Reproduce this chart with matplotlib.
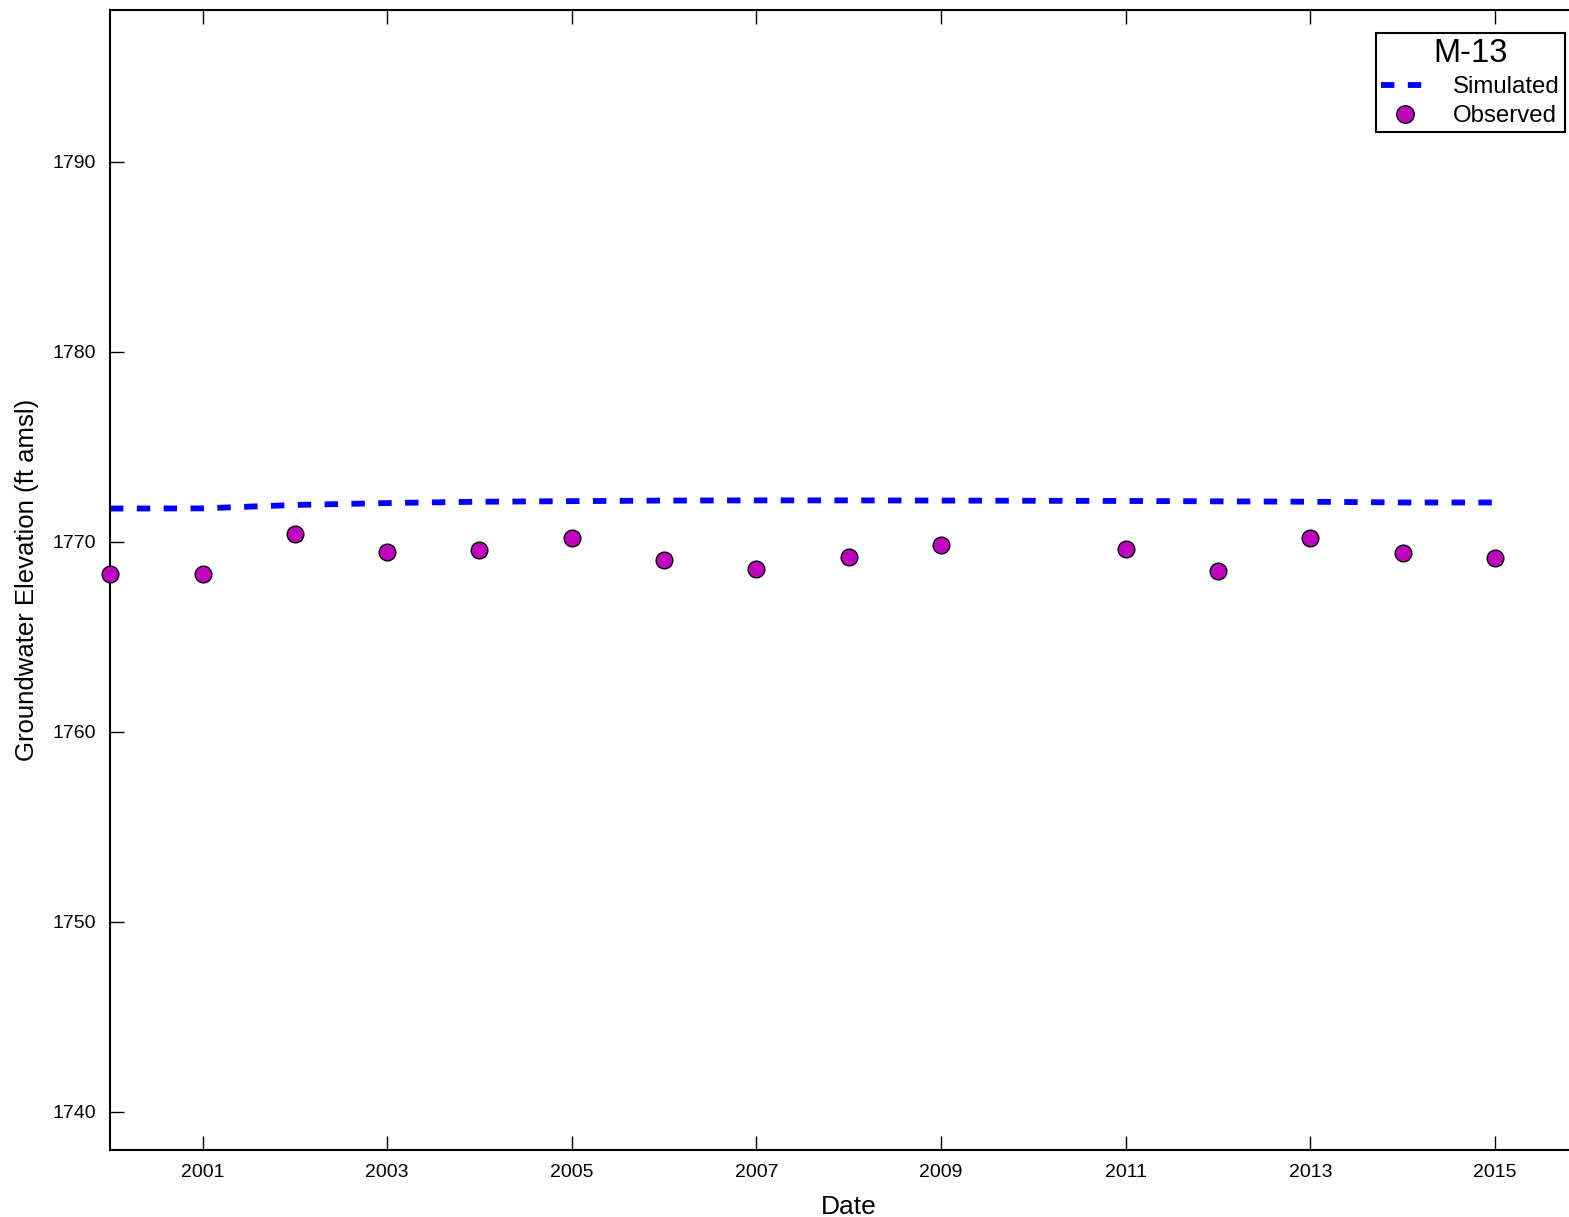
import matplotlib
matplotlib.use("Agg")
import matplotlib.pyplot as plt
import matplotlib.dates as mdates
import numpy as np
import pandas as pd

plt.rcParams['font.family'] = ['Liberation Sans', 'DejaVu Sans']

# well M-13: observed vs simulated groundwater elevation
obs_dates = pd.to_datetime(['2000-01-01', '2001-01-01', '2002-01-01', '2003-01-01',
                            '2004-01-01', '2005-01-01', '2006-01-01', '2007-01-01',
                            '2008-01-01', '2009-01-01', '2011-01-01', '2012-01-01',
                            '2013-01-01', '2014-01-01', '2015-01-01'])
obs_elev = [1768.34, 1768.32, 1770.44, 1769.50, 1769.60, 1770.23, 1769.05, 1768.60,
            1769.23, 1769.84, 1769.63, 1768.50, 1770.23, 1769.44, 1769.18]

sim_dates = pd.to_datetime(['2000-01-01', '2001-01-01', '2002-01-01', '2003-01-01',
                            '2004-01-01', '2005-01-01', '2006-01-01', '2007-01-01',
                            '2008-01-01', '2009-01-01', '2010-01-01', '2011-01-01',
                            '2012-01-01', '2013-01-01', '2014-01-01', '2015-01-01'])
sim_elev = [1771.76, 1771.77, 1771.95, 1772.05, 1772.12, 1772.15, 1772.18, 1772.19,
            1772.19, 1772.18, 1772.17, 1772.16, 1772.14, 1772.12, 1772.08, 1772.08]

year_ticks = pd.to_datetime(['2001-01-01', '2003-01-01', '2005-01-01', '2007-01-01',
                             '2009-01-01', '2011-01-01', '2013-01-01', '2015-01-01'])
elev_ticks = [1740, 1750, 1760, 1770, 1780, 1790]

fig = plt.figure(figsize=(15.69, 12.17), dpi=100)
ax = fig.add_axes([110 / 1569, 1 - 1150 / 1217, 1477 / 1569, 1140 / 1217])

ax.plot(sim_dates, sim_elev, color='b', lw=4.2, dashes=(2.3, 2.3), label='Simulated')
ax.plot(obs_dates, obs_elev, 'o', color='m', ms=12, mec='k', mew=1.0,
        label='Observed', clip_on=False, zorder=3)

ax.set_xlim(pd.Timestamp('2000-01-01'), pd.Timestamp('2016-01-01'))
ax.set_ylim(1738, 1798)
ax.set_yticks(elev_ticks)
ax.set_xticks(year_ticks)
ax.xaxis.set_major_formatter(mdates.DateFormatter('%Y'))

ax.tick_params(direction='in', length=10, width=1, labelsize=14, pad=10,
               top=True, right=True)
for s in ax.spines.values():
    s.set_linewidth(1.5)

ax.set_xlabel('Date', fontsize=19, labelpad=10)
ax.set_ylabel('Groundwater Elevation (ft amsl)', fontsize=18.5, labelpad=10)

leg = ax.legend(title='M-13', loc='upper right', bbox_to_anchor=(1563 / 1587, 1 - 23 / 1140),
                fontsize=17.3, title_fontsize=23.5, numpoints=1, fancybox=False,
                framealpha=1, borderpad=0.2, labelspacing=0.3, handlelength=2.0,
                handletextpad=1.0, borderaxespad=0, markerscale=1.05)
leg.get_frame().set_edgecolor('k')
leg.get_frame().set_linewidth(1.5)

fig.savefig('out.png', dpi=100)
